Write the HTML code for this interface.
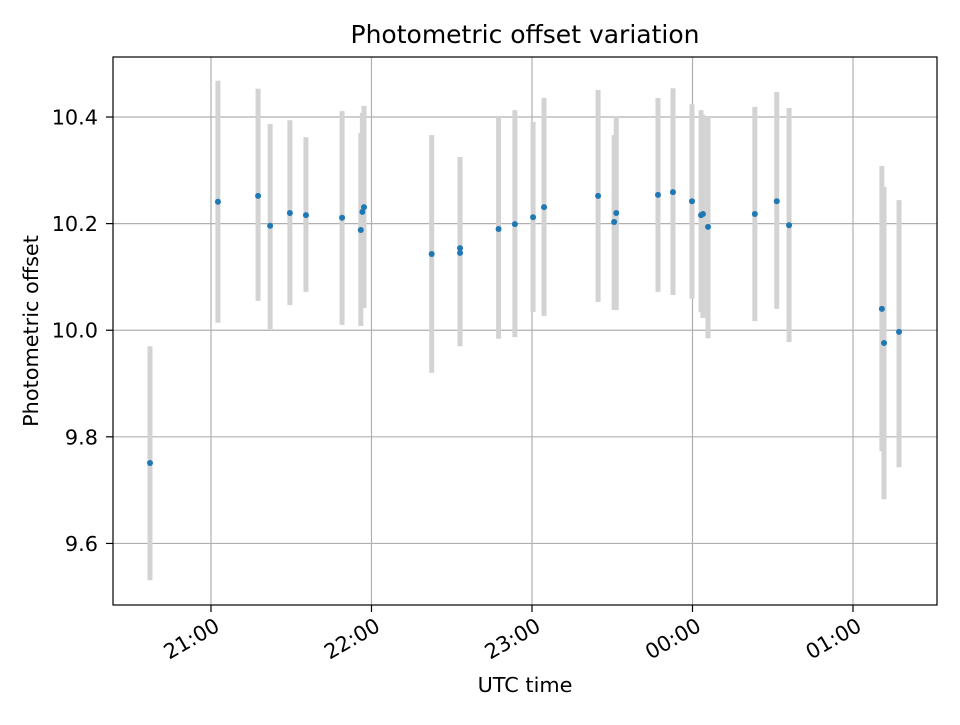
<!DOCTYPE html>
<html><head><meta charset="utf-8"><style>
body{margin:0;background:#fff;}
svg text{font-family:"DejaVu Sans","Liberation Sans",sans-serif;fill:#000;}
</style></head><body>
<svg id="chart" width="960" height="720" viewBox="0 0 960 720" xmlns="http://www.w3.org/2000/svg">
<rect x="0" y="0" width="960" height="720" fill="#fff"/>
<g id="grid"></g>
<g id="bars"></g>
<g id="pts"></g>
<g id="axes"></g>
<text x="525" y="43" font-size="25" text-anchor="middle">Photometric offset variation</text>
<text x="525" y="692" font-size="20.8" text-anchor="middle">UTC time</text>
<text x="38" y="331" font-size="20.8" text-anchor="middle" transform="rotate(-90 38 331)">Photometric offset</text>
</svg>
<script>
// minutes after 20:00 UTC
const times=[37.2,62.6,77.6,82.1,89.5,95.5,109.0,116.0,116.6,117.2,142.5,153.1,153.1,167.5,173.6,180.4,184.5,204.7,210.7,211.5,227.1,232.7,239.8,243.2,243.9,245.8,263.3,271.5,276.1,310.8,311.6,317.2];
const offsets=[9.751,10.241,10.252,10.196,10.220,10.216,10.211,10.188,10.222,10.231,10.143,10.154,10.145,10.190,10.199,10.212,10.231,10.252,10.203,10.220,10.254,10.259,10.242,10.216,10.218,10.194,10.218,10.242,10.197,10.040,9.976,9.997];
const upper=[9.970,10.468,10.453,10.387,10.394,10.362,10.411,10.370,10.408,10.421,10.366,10.325,10.312,10.400,10.413,10.391,10.436,10.451,10.366,10.402,10.436,10.454,10.424,10.413,10.404,10.402,10.419,10.447,10.417,10.308,10.269,10.244];
const lower=[9.531,10.014,10.055,10.002,10.047,10.072,10.010,10.008,10.042,10.042,9.920,9.984,9.970,9.984,9.987,10.034,10.027,10.053,10.038,10.038,10.072,10.066,10.059,10.034,10.023,9.985,10.017,10.040,9.978,9.773,9.683,9.743];
const xTickMinutes=[60,120,180,240,300];
const xTickLabels=["21:00","22:00","23:00","00:00","01:00"];
const yTicks=[9.6,9.8,10.0,10.2,10.4];

const L=113,R=937,T=57,B=605;
const xMin=23.37,xMax=331.4,yMin=9.4845,yMax=10.5126;
const X=m=>L+(m-xMin)/(xMax-xMin)*(R-L);
const Y=v=>B-(v-yMin)/(yMax-yMin)*(B-T);
const NS="http://www.w3.org/2000/svg";
function mk(tag,attrs,parent){const e=document.createElementNS(NS,tag);for(const k in attrs)e.setAttribute(k,attrs[k]);parent.appendChild(e);return e;}
const grid=document.getElementById('grid'),bars=document.getElementById('bars'),pts=document.getElementById('pts'),axes=document.getElementById('axes');

xTickMinutes.forEach((m,i)=>{
  const x=X(m);
  const g=mk('line',{x1:x,x2:x,y1:T,y2:B,stroke:'#b0b0b0','stroke-width':1.2},grid);
  
  
  const t=mk('line',{x1:x,x2:x,y1:B,y2:B+7,stroke:'#000','stroke-width':1.2},axes);
  
  
  const ax=x+2,ay=B+11;
  const lb=mk('text',{x:ax,y:ay+16,'font-size':20.8,'text-anchor':'end',transform:`rotate(-30 ${ax} ${ay})`},axes);
  lb.textContent=xTickLabels[i];
  
  
});
yTicks.forEach(v=>{
  const y=Y(v);
  const g=mk('line',{x1:L,x2:R,y1:y,y2:y,stroke:'#b0b0b0','stroke-width':1.2},grid);
  
  
  const t=mk('line',{x1:L-7,x2:L,y1:y,y2:y,stroke:'#000','stroke-width':1.2},axes);
  
  
  const lb=mk('text',{x:L-15,y:y+7.5,'font-size':20.8,'text-anchor':'end'},axes);
  lb.textContent=v.toFixed(1);
  
  
});
times.forEach((m,i)=>{
  const x=X(m);
  const b=mk('line',{x1:x,x2:x,y1:Y(upper[i]),y2:Y(lower[i]),stroke:'#d3d3d3','stroke-width':5},bars);
  
  
});
times.forEach((m,i)=>{
  const c=mk('circle',{cx:X(m),cy:Y(offsets[i]),r:3,fill:'#1f77b4'},pts);
  
  
});
const fr=mk('rect',{x:L,y:T,width:R-L,height:B-T,fill:'none',stroke:'#000','stroke-width':1.2},axes);


</script>
</body></html>
